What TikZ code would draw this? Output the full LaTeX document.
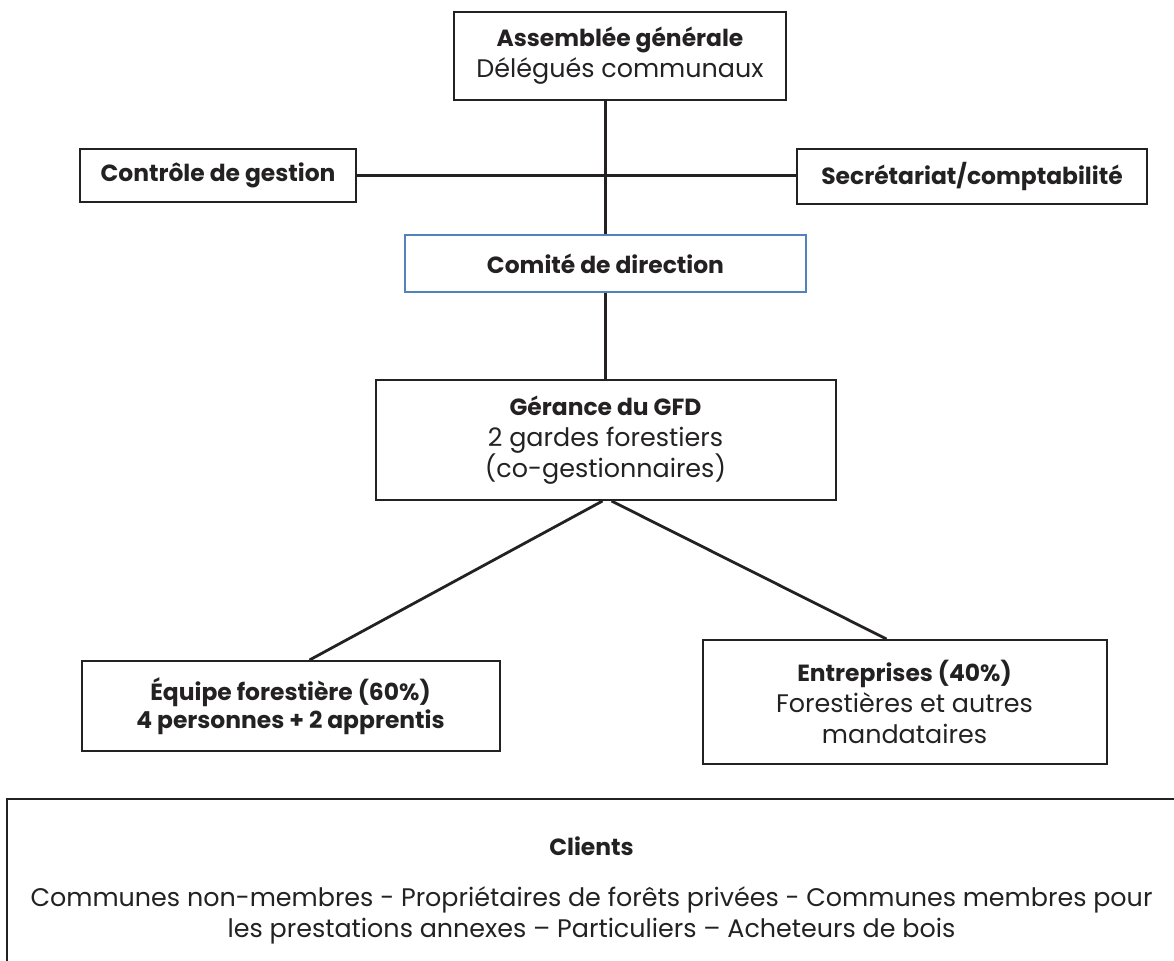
\documentclass[tikz,border=0pt]{standalone}
\usepackage{fontspec}
\setmainfont{Poppins}
\usetikzlibrary{positioning}

\definecolor{inkgray}{RGB}{35,33,34}
\definecolor{cdblue}{RGB}{84,130,186}

\newcommand{\orghead}[1]{{\fontsize{11.7}{15}\selectfont\bfseries #1}}

\tikzset{
  orgbox/.style={draw=inkgray, line width=1pt, align=center, inner sep=0pt,
    text=inkgray, font=\fontsize{12.7}{15.5}\selectfont},
  link/.style={draw=inkgray, line width=1.4pt},
}

\begin{document}
\begin{tikzpicture}
    \useasboundingbox (0,0) rectangle (587pt,-480pt);

    % top of the chart
    \node [orgbox, minimum width=166pt, minimum height=44pt] (ag) at (310pt,-28pt)
        {\orghead{Assemblée générale}\\Délégués communaux};
    \node [orgbox, below=66.5pt of ag, xshift=-7.25pt, minimum width=200.5pt,
        minimum height=28.5pt, draw=cdblue] (cd) {\orghead{Comité de direction}};
    \node [orgbox, left=23.5pt of cd, yshift=44pt, minimum width=138pt,
        minimum height=26.5pt] (cg) {\orghead{Contrôle de gestion}};
    \node [orgbox, right=-5.5pt of cd, yshift=43.5pt, minimum width=175pt,
        minimum height=27.5pt] (sc) {\orghead{Secrétariat/comptabilité}};

    % gerance and the two branches
    \node [orgbox, below=43pt of cd, minimum width=230pt, minimum height=60pt] (gr)
        {\orghead{Gérance du GFD}\\2 gardes forestiers\\(co-gestionnaires)};
    \node [orgbox, below=79.5pt of gr, xshift=-157.5pt, minimum width=209pt,
        minimum height=45pt, font=\fontsize{11.7}{14}\selectfont\bfseries] (eq)
        {Équipe forestière (60\%)\\4 personnes + 2 apprentis};
    \node [orgbox, below=69pt of gr, xshift=149.5pt, minimum width=202pt,
        minimum height=62pt] (en)
        {\orghead{Entreprises (40\%)}\\Forestières et autres\\mandataires};

    % clients
    \node [orgbox, below=148.5pt of gr, xshift=-7pt, minimum width=585pt,
        minimum height=91pt] (cl)
        {\orghead{Clients}\\[10pt]Communes non-membres - Propriétaires de forêts privées - Communes membres pour\\
         les prestations annexes – Particuliers – Acheteurs de bois};

    \draw [link] (ag.south -| cd.north) -- (cd.north);
    \draw [link] (cg.east) -- (cg.east -| sc.west);
    \draw [link] (cd.south) -- (cd.south |- gr.north);
    \draw [link] ([xshift=-1.5pt]gr.south) -- ([xshift=9.5pt]eq.north);
    \draw [link] ([xshift=3pt]gr.south) -- ([xshift=-9pt]en.north);
\end{tikzpicture}
\end{document}
